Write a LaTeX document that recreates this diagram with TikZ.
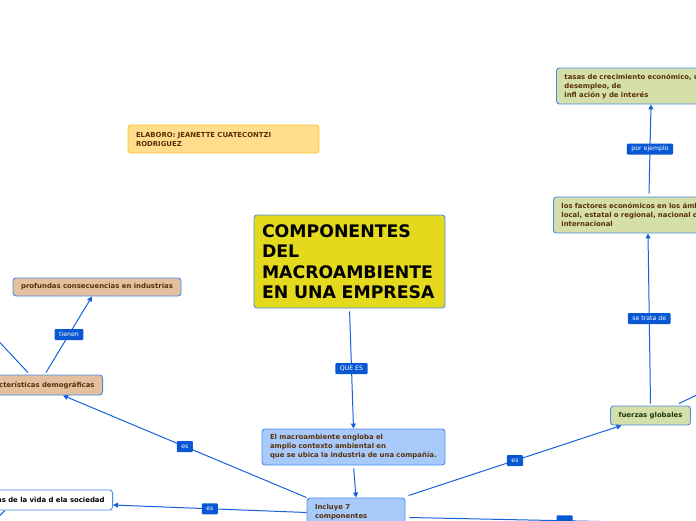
\documentclass[tikz,border=0pt]{standalone}
\usepackage{fontspec}
\setmainfont{DejaVu Sans}
\usetikzlibrary{positioning,arrows.meta}

\definecolor{lineablue}{RGB}{22,98,218}
\definecolor{bordeblue}{RGB}{74,140,234}
\definecolor{etiqblue}{RGB}{8,88,212}
\definecolor{textocafe}{RGB}{88,48,10}
\definecolor{elabfill}{RGB}{255,221,140}
\definecolor{elabline}{RGB}{255,196,48}
\definecolor{titulofill}{RGB}{229,217,30}
\definecolor{azulfill}{RGB}{168,202,250}
\definecolor{tanfill}{RGB}{226,192,160}
\definecolor{olivafill}{RGB}{213,223,170}
\definecolor{textoverde}{RGB}{30,56,16}

\tikzset{
  tema/.style={draw=bordeblue,line width=0.9pt,rounded corners=3pt,
    font=\fontsize{6.9}{9}\selectfont\bfseries,text=textocafe,
    align=left,inner xsep=8pt,inner ysep=2pt},
  etiqueta/.style={fill=etiqblue,text=white,rounded corners=1pt,
    font=\fontsize{6.2}{6.5}\selectfont,inner xsep=4.5pt,inner ysep=0pt,
    minimum height=11pt,minimum width=16pt},
  enlace/.style={draw=lineablue,line width=1pt},
  flecha/.style={enlace,-{Triangle[width=5pt,length=5pt]}},
}

\begin{document}
\begin{tikzpicture}[x=1pt,y=1pt]
\useasboundingbox (0,0) rectangle (696,-520);
\clip (0,0) rectangle (696,-520);

%---------------------------------
% NODOS CENTRALES
%---------------------------------
\node[tema,fill=elabfill,draw=elabline,minimum width=191,minimum height=28,
  text width=175] (elaboro) at (223.5,-139)
{ELABORO: JEANETTE CUATECONTZI\\RODRIGUEZ};

\node[tema,fill=titulofill,text=black,minimum width=191,minimum height=93,
  text width=175,font=\fontsize{17.3}{20.5}\selectfont\bfseries]
  (titulo) at (349.5,-261.5)
{COMPONENTES\\DEL\\MACROAMBIENTE\\EN UNA EMPRESA};

\node[tema,fill=azulfill,minimum width=183,minimum height=36,
  text width=167] (defin) at (353.5,-447)
{El macroambiente engloba el\\amplio contexto ambiental en\\que se ubica la industria de una compañía.};

\node[tema,fill=azulfill,minimum width=98,minimum height=29,
  text width=82] (incluye) at (356,-512.5)
{Incluye 7\\componentes};

%---------------------------------
% RAMA IZQUIERDA
%---------------------------------
\node[tema,fill=white,text=black,minimum height=20,anchor=east]
  (vida) at (113,-500) {as de la vida d ela sociedad};

\node[tema,fill=tanfill,minimum height=20,anchor=east]
  (demog) at (103,-385) {características demográficas};

\node[tema,fill=tanfill,minimum width=168,minimum height=18,align=center]
  (profundas) at (97,-287) {profundas consecuencias en industrias};

%---------------------------------
% RAMA DERECHA
%---------------------------------
\node[tema,fill=olivafill,text=textoverde,minimum width=79,minimum height=19,
  align=center] (fuerzas) at (650.5,-415.5) {fuerzas globales};

\node[tema,fill=olivafill,minimum height=36,text width=200,anchor=west]
  (factores) at (553,-215)
{los factores económicos en los ámbitos\\local, estatal o regional, nacional o\\internacional};

\node[tema,fill=olivafill,minimum height=36,text width=200,anchor=west]
  (tasas) at (556,-86)
{tasas de crecimiento económico, de\\desempleo, de\\infl ación y de interés};

% extremos que salen del cuadro
\coordinate (izq) at (-25,-316);
\coordinate (der) at (730,-379);
\coordinate (abajo) at (-15,-530);
\coordinate (sur) at (720,-524);

%---------------------------------
% CONECTORES
%---------------------------------
\draw[flecha,shorten <=3pt] (titulo.south) -- node[etiqueta]{QUE ES} (defin.north);
\draw[flecha,shorten <=3pt] (defin.south) -- (incluye.north);

\draw[flecha] (incluye.north west) -- node[etiqueta]{es}
  ([xshift=-40pt]demog.south east);
\draw[flecha] (incluye.west) -- node[etiqueta]{es}
  ([yshift=-5pt]vida.east);
\draw[flecha] ([xshift=-57pt,yshift=2pt]demog.north east) -- node[etiqueta]{tienen}
  ([xshift=-5pt]profundas.south);
\draw[enlace] ([xshift=-75pt,yshift=2pt]demog.north east) -- (izq);
\draw[enlace] ([xshift=-108pt]vida.south east) -- (abajo);

\draw[flecha] ([xshift=3pt,yshift=2pt]incluye.north east) -- node[etiqueta]{es}
  ([xshift=-29pt]fuerzas.south);
\draw[enlace] ([xshift=4pt,yshift=-5pt]incluye.east) -- node[etiqueta]{} (sur);
\draw[flecha] ([yshift=2pt]fuerzas.north) -- node[etiqueta]{se trata de}
  ([xshift=95pt]factores.south west);
\draw[flecha] ([xshift=96pt,yshift=3pt]factores.north west) -- node[etiqueta]{por ejemplo}
  ([xshift=95pt]tasas.south west);
\draw[enlace] ([xshift=-12pt,yshift=2pt]fuerzas.north east) -- (der);

\end{tikzpicture}
\end{document}
